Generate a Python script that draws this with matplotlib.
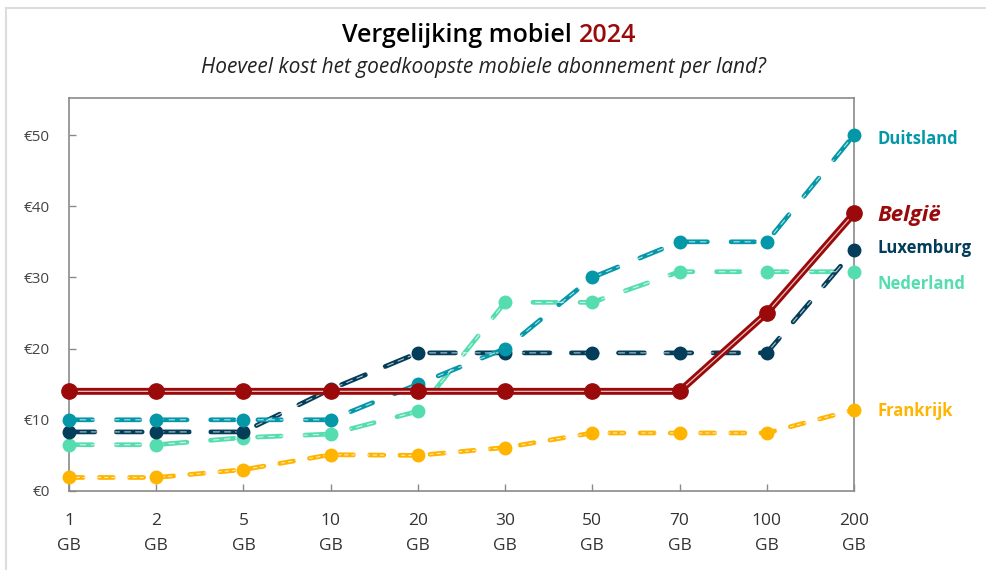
import matplotlib.pyplot as plt
from matplotlib.lines import Line2D

plt.rcParams['font.family'] = ['Open Sans', 'DejaVu Sans']

categories = ['1\nGB', '2\nGB', '5\nGB', '10\nGB', '20\nGB', '30\nGB', '50\nGB', '70\nGB', '100\nGB', '200\nGB']
belgie = [14, 14, 14, 14, 14, 14, 14, 14, 25, 39]
duitsland = [10, 10, 10, 10, 15, 20, 30, 35, 35, 50]
luxemburg = [8.3, 8.3, 8.3, 14.3, 19.4, 19.4, 19.4, 19.4, 19.4, 33.8]
nederland = [6.5, 6.5, 7.5, 8.0, 11.2, 26.5, 26.5, 30.8, 30.8, 30.8]
frankrijk = [1.9, 1.9, 3.0, 5.1, 5.0, 6.1, 8.15, 8.15, 8.15, 11.4]

red = '#9B0A0A'
teal = '#0397A8'
navy = '#033D5A'
mint = '#55DDB0'
orange = '#FFB400'
grey = '#8A8A8A'

fig = plt.figure(figsize=(9.86, 5.70), dpi=100)
ax = fig.add_axes([69/986, 1-491/570, (854-69)/986, (491-98)/570])
x = list(range(len(categories)))


def draw(vals, color, dashes, ms, lw=3.4):
    ax.plot(x, vals, color=color, lw=lw, dashes=dashes, solid_capstyle='round',
            dash_capstyle='round', zorder=3, clip_on=False)
    ax.plot(x, vals, color='white', lw=0.8, alpha=0.7, dashes=dashes,
            dash_capstyle='round', zorder=3.1, clip_on=False)
    ax.plot(x, vals, 'o', color=color, ms=ms, zorder=4, clip_on=False)


draw(frankrijk, orange, (3, 3.4), 9)
draw(nederland, mint, (5, 5), 9)
draw(luxemburg, navy, (5.5, 4.5), 9)
draw(duitsland, teal, (5, 5), 9)
# solid line
ax.plot(x, belgie, color=red, lw=5, zorder=5, clip_on=False)
ax.plot(x, belgie, color='white', lw=0.9, alpha=0.75, zorder=5.1, clip_on=False)
ax.plot(x, belgie, 'o', color=red, ms=11, zorder=6, clip_on=False)

ax.set_xlim(0, 9)
ax.set_ylim(0, 55.2)
ax.set_xticks(x)
ax.set_xticklabels(categories, fontsize=12.5, color='#333333', linespacing=1.75)
ax.set_yticks([0, 10, 20, 30, 40, 50])
ax.set_yticklabels(['€0', '€10', '€20', '€30', '€40', '€50'], fontsize=11, color='#444444')
ax.tick_params(direction='in', length=5, color=grey, width=1)
ax.tick_params(axis='x', pad=16)
ax.tick_params(axis='y', pad=14)
for s in ax.spines.values():
    s.set_color(grey)
    s.set_linewidth(1.2)

lx = 9.27
ax.text(lx, duitsland[-1] - 0.6, 'Duitsland', color=teal, fontsize=12, fontweight='bold', va='center')
ax.text(lx, belgie[-1] - 0.3, 'België', color=red, fontsize=16, fontweight='bold', style='italic', va='center')
ax.text(lx, 34.2, 'Luxemburg', color=navy, fontsize=12, fontweight='bold', va='center')
ax.text(lx, 29.1, 'Nederland', color=mint, fontsize=12, fontweight='bold', va='center')
ax.text(lx, frankrijk[-1] - 0.2, 'Frankrijk', color=orange, fontsize=12, fontweight='bold', va='center')

# title: two colours
ty = 1 - 36/570
t1 = fig.text(0.5, ty, 'Vergelijking mobiel ', fontsize=18, fontweight='semibold', color='black', ha='center', va='center')
fig.canvas.draw()
r = fig.canvas.get_renderer()
bb = t1.get_window_extent(r)
tmp = fig.text(0, 0, '2024', fontsize=18, fontweight='semibold')
w2 = tmp.get_window_extent(r).width
tmp.remove()
x0 = (986 - (bb.width + w2)) / 2 - 4
t1.set_position((x0/986, ty))
t1.set_ha('left')
fig.text((x0 + bb.width)/986, ty, '2024', fontsize=18, fontweight='semibold', color=red, ha='left', va='center')
fig.text(483/986, 1-68/570, 'Hoeveel kost het goedkoopste mobiele abonnement per land?',
         fontsize=15, style='italic', color='#222222', ha='center', va='center')

# outer frame lines
fig.add_artist(Line2D([6/986, 1], [1-8/570, 1-8/570], color='#DDDDDD', lw=1.5))
fig.add_artist(Line2D([6/986, 6/986], [0, 1-8/570], color='#DDDDDD', lw=1.5))

fig.savefig('out.png', dpi=100)
